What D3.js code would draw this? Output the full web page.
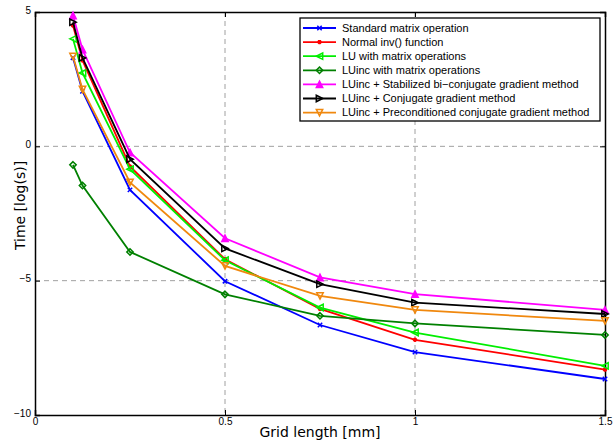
<!DOCTYPE html>
<meta charset="utf-8">
<script src="https://d3js.org/d3.v7.min.js"></script>
<style>
  body { margin: 0; background: #fff; }
  text { font-family: "Liberation Sans", Arial, sans-serif; }
</style>
<div id="chart"></div>
<script>

// grid lengths [mm]
var gridLength = [0.1, 0.125, 0.25, 0.5, 0.75, 1, 1.5];

// time [log(s)] per method
var standardMatrix = [3.3, 2.05, -1.62, -5.02, -6.65, -7.66, -8.66];
var normalInv      = [4.5, 3.2, -0.75, -4.2, -6.05, -7.2, -8.31];
var luMatrix       = [4.0, 2.73, -0.85, -4.24, -6.0, -6.93, -8.17];
var luincMatrix    = [-0.69, -1.46, -3.93, -5.51, -6.31, -6.59, -7.02];
var luincBicg      = [4.87, 3.6, -0.23, -3.42, -4.88, -5.5, -6.09];
var luincCg        = [4.62, 3.29, -0.48, -3.8, -5.13, -5.82, -6.24];
var luincPcg       = [3.35, 2.12, -1.34, -4.45, -5.57, -6.09, -6.5];

var seriesNames = [
  "Standard matrix operation",
  "Normal inv() function",
  "LU with matrix operations",
  "LUinc with matrix operations",
  "LUinc + Stabilized bi\u2212conjugate gradient method",
  "LUinc + Conjugate gradient method",
  "LUinc + Preconditioned conjugate gradient method"
];
var seriesValues = [standardMatrix, normalInv, luMatrix, luincMatrix, luincBicg, luincCg, luincPcg];
var seriesColors = ["#0000ff", "#ff0000", "#00ee00", "#008000", "#ff00ff", "#000000", "#f0880e"];
var seriesMarkers = ["x", "star", "left", "diamond", "up", "right", "down"];

var xTicks = [0, 0.5, 1, 1.5];
var yTicks = [-10, -5, 0, 5];

var margin = {top: 12, right: 9, bottom: 25, left: 35},
    width = 614 - margin.left - margin.right,
    height = 440 - margin.top - margin.bottom;

var svg = d3.select("#chart")
  .append("svg")
    .attr("width", 614)
    .attr("height", 440)
  .append("g")
    .attr("transform", "translate(" + margin.left + "," + margin.top + ")");

var x = d3.scaleLinear().domain([0, 1.5]).range([0, width]);
var y = d3.scaleLinear().domain([-10, 5]).range([height, 0]);

// dashed grid
svg.selectAll("xgrid")
  .data(xTicks.slice(1, -1))
  .enter().append("line")
    .attr("x1", function(d) { return x(d); })
    .attr("x2", function(d) { return x(d); })
    .attr("y1", 0).attr("y2", height)
    .attr("stroke", "#a0a0a0").attr("stroke-dasharray", "5,4");
svg.selectAll("ygrid")
  .data(yTicks.slice(1, -1))
  .enter().append("line")
    .attr("y1", function(d) { return y(d); })
    .attr("y2", function(d) { return y(d); })
    .attr("x1", 0).attr("x2", width)
    .attr("stroke", "#a0a0a0").attr("stroke-dasharray", "5,4");

// axes
var fmt = function(d) { return d < 0 ? "\u2212" + Math.abs(d) : d; };
var xAxis = svg.append("g")
  .attr("transform", "translate(0," + height + ")")
  .call(d3.axisBottom(x).tickValues(xTicks).tickSize(-5).tickPadding(4).tickFormat(fmt));
var yAxis = svg.append("g")
  .call(d3.axisLeft(y).tickValues(yTicks).tickSize(-5).tickPadding(4).tickFormat(fmt));
svg.append("g")
  .attr("transform", "translate(" + width + ",0)")
  .call(d3.axisRight(y).tickValues(yTicks).tickSize(-5).tickFormat(""));
svg.append("g")
  .call(d3.axisTop(x).tickValues(xTicks).tickSize(-5).tickFormat(""));
svg.selectAll(".domain").attr("stroke-width", 1.5);
svg.selectAll(".tick text").style("font-size", "10px").attr("fill", "#000");
xAxis.selectAll(".tick text").attr("dy", "0.55em");
yAxis.selectAll(".tick text").attr("dy", "0.1em");

// marker shapes
function markerPath(type, r) {
  switch (type) {
    case "x": return "M" + -r + "," + -r + "L" + r + "," + r + "M" + -r + "," + r + "L" + r + "," + -r;
    case "star": return "M" + -r + ",0L" + r + ",0M0," + -r + "L0," + r +
                        "M" + -r*0.7 + "," + -r*0.7 + "L" + r*0.7 + "," + r*0.7 +
                        "M" + -r*0.7 + "," + r*0.7 + "L" + r*0.7 + "," + -r*0.7;
    case "left": return "M" + -r + ",0L" + r + "," + -r + "L" + r + "," + r + "Z";
    case "right": return "M" + r + ",0L" + -r + "," + -r + "L" + -r + "," + r + "Z";
    case "up": return "M0," + -r + "L" + r + "," + r + "L" + -r + "," + r + "Z";
    case "down": return "M0," + r + "L" + r + "," + -r + "L" + -r + "," + -r + "Z";
    case "diamond": return "M0," + -r + "L" + r + ",0L0," + r + "L" + -r + ",0Z";
  }
}

var line = d3.line()
  .x(function(d, i) { return x(gridLength[i]); })
  .y(function(d) { return y(d); });

seriesValues.forEach(function(vals, s) {
  svg.append("path")
    .datum(vals)
    .attr("d", line)
    .attr("fill", "none")
    .attr("stroke", seriesColors[s])
    .attr("stroke-width", 1.8);
  svg.selectAll("mark" + s)
    .data(vals)
    .enter().append("path")
      .attr("transform", function(d, i) { return "translate(" + x(gridLength[i]) + "," + y(d) + ")"; })
      .attr("d", markerPath(seriesMarkers[s], s < 2 ? 2.2 : 3.2))
      .attr("fill", seriesMarkers[s] == "up" ? seriesColors[s] : "none")
      .attr("stroke", seriesColors[s])
      .attr("stroke-width", 1.5);
});

// legend
var legend = svg.append("g").attr("transform", "translate(265,6)");
legend.append("rect")
  .attr("width", 300).attr("height", 103)
  .attr("fill", "#fff").attr("stroke", "#000").attr("stroke-width", 1.3);
seriesNames.forEach(function(name, s) {
  var ly = 10 + s * 14.1;
  legend.append("line")
    .attr("x1", 3).attr("x2", 36).attr("y1", ly).attr("y2", ly)
    .attr("stroke", seriesColors[s]).attr("stroke-width", 1.8);
  legend.append("path")
    .attr("transform", "translate(19.5," + ly + ")")
    .attr("d", markerPath(seriesMarkers[s], s < 2 ? 2.2 : 3.2))
    .attr("fill", seriesMarkers[s] == "up" ? seriesColors[s] : "none")
    .attr("stroke", seriesColors[s]).attr("stroke-width", 1.5);
  legend.append("text")
    .attr("x", 42).attr("y", ly)
    .attr("dy", "0.35em")
    .style("font-size", "11px")
    .text(name);
});

// axis labels
svg.append("text")
  .attr("x", width / 2).attr("y", height + 22)
  .attr("text-anchor", "middle")
  .style("font-family", "DejaVu Sans")
  .style("font-size", "14px")
  .text("Grid length [mm]");
svg.append("text")
  .attr("transform", "rotate(-90)")
  .attr("x", -height / 2 + 8).attr("y", -15)
  .attr("dy", "0.35em")
  .attr("text-anchor", "middle")
  .style("font-family", "DejaVu Sans")
  .style("font-size", "14px")
  .text("Time [log(s)]");

</script>
